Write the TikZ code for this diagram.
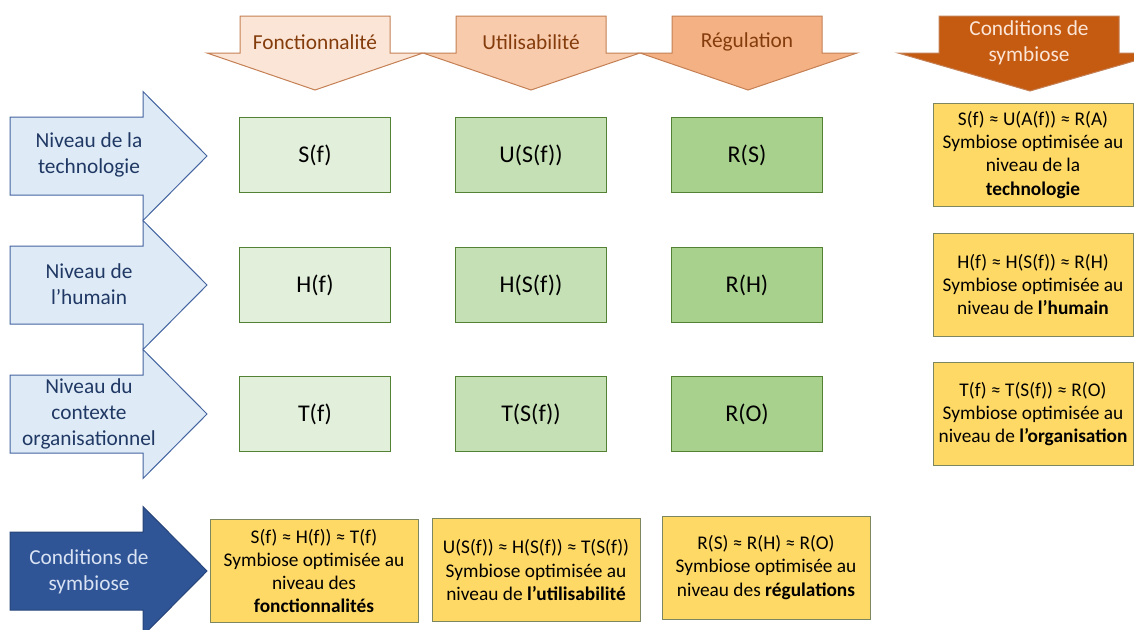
\documentclass[tikz,border=0pt]{standalone}
\usepackage{fontspec}
\setmainfont{Carlito}
\definecolor{peachA}{HTML}{FBE5D6}
\definecolor{peachB}{HTML}{F8CBAD}
\definecolor{peachC}{HTML}{F4B183}
\definecolor{rust}{HTML}{C55A11}
\definecolor{rustline}{RGB}{196,128,84}
\definecolor{brownText}{HTML}{843C0C}
\definecolor{paleBlue}{HTML}{DEEBF7}
\definecolor{blueLine}{RGB}{68,100,160}
\definecolor{navyText}{HTML}{203864}
\definecolor{deepBlue}{HTML}{2F5597}
\definecolor{iceText}{HTML}{DAE3F3}
\definecolor{greenA}{HTML}{E2EFDA}
\definecolor{greenB}{HTML}{C5E0B4}
\definecolor{greenC}{HTML}{A9D18E}
\definecolor{greenLine}{HTML}{548235}
\definecolor{butter}{HTML}{FFD966}
\definecolor{oliveLine}{RGB}{125,135,95}
\usepackage{tikz}
\usetikzlibrary{positioning}

\begin{document}
\begin{tikzpicture}[
  x=0.75pt, y=-0.75pt,
  hdr/.style={draw=rustline, line width=0.75pt},
  hdrtxt/.style={font=\fontsize{16}{19.5}\selectfont, text=brownText, align=center},
  lvl/.style={draw=blueLine, fill=paleBlue, line width=0.75pt},
  lvltxt/.style={font=\fontsize{16}{19.5}\selectfont, text=navyText, align=center},
  cell/.style={draw=greenLine, line width=0.75pt, minimum width=113.25pt,
               minimum height=56.25pt, font=\fontsize{18}{22}\selectfont},
  sym/.style={draw=oliveLine, fill=butter, line width=0.75pt, align=center,
              minimum width=150pt, minimum height=77.25pt, inner sep=1pt,
              font=\fontsize{14.5}{17.3}\selectfont},
  symb/.style={sym, minimum width=156pt},
]
\useasboundingbox (0,0) rectangle (1134,629);

% column headers
\draw[hdr, fill=peachA] (240,16) -- (390,16) -- (390,53) -- (423,53) -- (315,90) -- (207,53) -- (240,53) -- cycle;
\draw[hdr, fill=peachB] (456,16) -- (606,16) -- (606,53) -- (640,53) -- (531,90) -- (423,53) -- (456,53) -- cycle;
\draw[hdr, fill=peachC] (672,16) -- (822,16) -- (822,53) -- (857,53) -- (748,90) -- (640,53) -- (672,53) -- cycle;
\draw[hdr, fill=rust] (939,16) -- (1119,16) -- (1119,53) -- (1162,53) -- (1030,91) -- (898,53) -- (939,53) -- cycle;
\node[hdrtxt] (hFonc) at (315,42) {Fonctionnalité};
\node[hdrtxt] (hUtil) at (531,42) {Utilisabilité};
\node[hdrtxt] (hReg) at (747,42) {Régulation};
\node[hdrtxt, text=peachA] (hCond) at (1029,43) {Conditions de\\symbiose};

% row headers
\draw[lvl] (10,117) -- (143,117) -- (143,91.5) -- (207,156) -- (143,220.5) -- (143,195) -- (10,195) -- cycle;
\draw[lvl] (10,246) -- (143,246) -- (143,220.5) -- (207,285) -- (143,349.5) -- (143,324) -- (10,324) -- cycle;
\draw[lvl] (10,375) -- (143,375) -- (143,349.5) -- (207,414) -- (143,478.5) -- (143,453) -- (10,453) -- cycle;
\draw[lvl, draw=deepBlue!80!black, fill=deepBlue] (10,532) -- (143,532) -- (143,506.5) -- (207,571) -- (143,635.5) -- (143,610) -- (10,610) -- cycle;
\node[lvltxt] (lTech) at (89,155) {Niveau de la\\technologie};
\node[lvltxt] (lHum) at (89,284) {Niveau de\\l’humain};
\node[lvltxt] (lOrg) at (89,414) {Niveau du\\contexte\\organisationnel};
\node[lvltxt, text=iceText] (lCond) at (89,572) {Conditions de\\symbiose};

% matrix cells
\node[cell, fill=greenA] (sf) at (315,155) {S(f)};
\node[cell, fill=greenB] (usf) at (531,155) {U(S(f))};
\node[cell, fill=greenC] (rs) at (747,155) {R(S)};
\node[cell, fill=greenA] (hf) at (315,285) {H(f)};
\node[cell, fill=greenB] (hsf) at (531,285) {H(S(f))};
\node[cell, fill=greenC] (rh) at (747,285) {R(H)};
\node[cell, fill=greenA] (tf) at (315,414) {T(f)};
\node[cell, fill=greenB] (tsf) at (531,414) {T(S(f))};
\node[cell, fill=greenC] (ro) at (747,414) {R(O)};

% symbiosis per level
\node[sym] (symTech) at (1033,155) {S(f) ≈ U(A(f)) ≈ R(A)\\Symbiose optimisée au\\niveau de la\\\textbf{technologie}};
\node[sym] (symHum) at (1033,284.5) {H(f) ≈ H(S(f)) ≈ R(H)\\Symbiose optimisée au\\niveau de \textbf{l’humain}};
\node[sym] (symOrg) at (1033,414) {T(f) ≈ T(S(f)) ≈ R(O)\\Symbiose optimisée au\\niveau de \textbf{l’organisation}};

% symbiosis per dimension
\node[symb] (symFonc) at (314,571) {S(f) ≈ H(f)) ≈ T(f)\\Symbiose optimisée au\\niveau des\\\textbf{fonctionnalités}};
\node[symb] (symUtil) at (536,570) {U(S(f)) ≈ H(S(f)) ≈ T(S(f))\\Symbiose optimisée au\\niveau de \textbf{l’utilisabilité}};
\node[symb] (symReg) at (766,567.5) {R(S) ≈ R(H) ≈ R(O)\\Symbiose optimisée au\\niveau des \textbf{régulations}};
\end{tikzpicture}
\end{document}
